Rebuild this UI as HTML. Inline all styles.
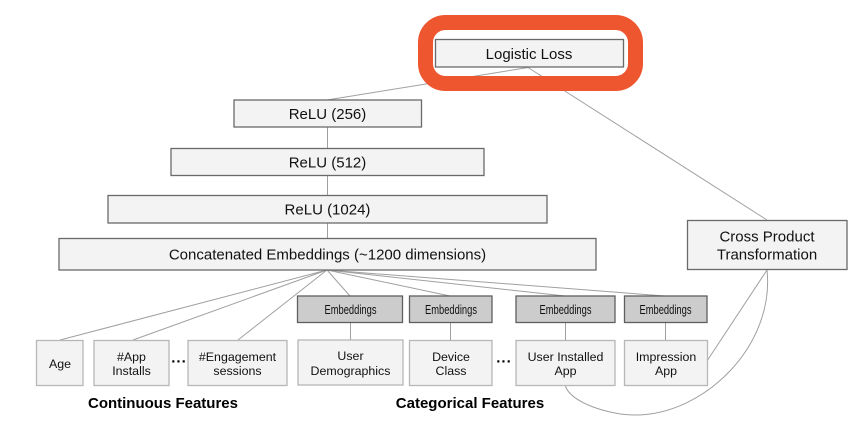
<!DOCTYPE html>
<html>
<head>
<meta charset="utf-8">
<style>
html,body{margin:0;padding:0;background:#fff;width:864px;height:428px;overflow:hidden}
svg{display:block}
text{font-family:"Liberation Sans",Arial,sans-serif;fill:#111;text-anchor:middle}
.l{stroke:#a0a0a0;stroke-width:1;fill:none}
.d{fill:#f3f3f3;stroke:#6a6a6a;stroke-width:1.3}
.b{fill:#f3f3f3;stroke:#b7b7b7;stroke-width:1.3}
.e{fill:#cccccc;stroke:#5f5f5f;stroke-width:1.3}
.t{font-size:15px}
.s{font-size:12.4px}
.n{font-family:"Liberation Sans Narrow","Liberation Sans",sans-serif;font-size:12.5px}
.h{font-size:15px;font-weight:bold;fill:#000}
.o{font-size:15px;font-weight:bold;letter-spacing:1px;fill:#000}
</style>
</head>
<body>
<svg width="864" height="428" viewBox="0 0 864 428" xmlns="http://www.w3.org/2000/svg">
<!-- connectors -->
<path class="l" d="M528,67.500 L327,100"/>
<path class="l" d="M528,67.500 L767,220"/>
<path class="l" d="M327.500,127 V148"/>
<path class="l" d="M327.500,175 V195"/>
<path class="l" d="M327.500,223 V238"/>
<path class="l" d="M327,270 L60,340"/>
<path class="l" d="M327,270 L133,340"/>
<path class="l" d="M327,270 L238,340"/>
<path class="l" d="M327,270 L350,296"/>
<path class="l" d="M327,270 L450,296"/>
<path class="l" d="M327,270 L565,296"/>
<path class="l" d="M327,270 L665,296"/>
<path class="l" d="M350.500,322 V340"/>
<path class="l" d="M450.500,322 V340"/>
<path class="l" d="M565.500,322 V344"/>
<path class="l" d="M665.500,322 V340"/>
<path class="l" d="M707,361 L767,270"/>
<path class="l" d="M565,385 C570,403 610,415 635,415 C705,415 775,345 767,270"/>

<!-- highlight -->
<rect x="425.500" y="22.500" width="210" height="61" rx="20" ry="20" fill="none" stroke="#ee562f" stroke-width="15"/>

<!-- main boxes -->
<rect class="d" x="435.500" y="39.500" width="188" height="27.500"/>
<text class="t" x="529" y="59">Logistic Loss</text>

<rect class="d" x="234" y="100" width="187.500" height="27"/>
<text class="t" x="327.500" y="119">ReLU (256)</text>

<rect class="d" x="171" y="148.500" width="313" height="27"/>
<text class="t" x="327.500" y="167.500">ReLU (512)</text>

<rect class="d" x="108" y="195.500" width="439" height="27.500"/>
<text class="t" x="327.500" y="214.500">ReLU (1024)</text>

<rect class="d" x="59" y="238.500" width="537" height="31.500"/>
<text class="t" x="327.500" y="259.500">Concatenated Embeddings (~1200 dimensions)</text>

<rect class="d" x="687.500" y="220.500" width="159.500" height="49"/>
<text class="t" x="767" y="241.500">Cross Product</text>
<text class="t" x="767" y="259.500">Transformation</text>

<!-- embeddings -->
<rect class="e" x="297.500" y="296" width="105" height="26.500"/>
<text class="n" x="350.500" y="314" textLength="52" lengthAdjust="spacingAndGlyphs">Embeddings</text>
<rect class="e" x="409.500" y="296" width="82.500" height="26.500"/>
<text class="n" x="451" y="314" textLength="52" lengthAdjust="spacingAndGlyphs">Embeddings</text>
<rect class="e" x="516" y="296" width="99" height="26.500"/>
<text class="n" x="565.500" y="314" textLength="52" lengthAdjust="spacingAndGlyphs">Embeddings</text>
<rect class="e" x="624.500" y="296" width="82.500" height="26.500"/>
<text class="n" x="665.500" y="314" textLength="52" lengthAdjust="spacingAndGlyphs">Embeddings</text>

<!-- feature boxes -->
<rect class="b" x="36.500" y="340.500" width="46.500" height="45"/>
<text class="s" x="60" y="368">Age</text>

<rect class="b" x="94" y="340.500" width="75" height="45"/>
<text class="s" x="131.500" y="361">#App</text>
<text class="s" x="131.500" y="375">Installs</text>

<text class="o" x="179" y="362.500">...</text>

<rect class="b" x="188" y="340.500" width="99" height="45"/>
<text class="s" x="237.500" y="361">#Engagement</text>
<text class="s" x="237.500" y="375">sessions</text>

<rect class="b" x="298" y="340" width="105" height="45"/>
<text class="s" x="350.500" y="360">User</text>
<text class="s" x="350.500" y="375">Demographics</text>

<rect class="b" x="409.500" y="340.500" width="82.500" height="45"/>
<text class="s" x="451" y="361">Device</text>
<text class="s" x="451" y="375">Class</text>

<text class="o" x="504" y="362.500">...</text>

<rect class="b" x="516" y="340.500" width="99" height="45"/>
<text class="s" x="565.500" y="361">User Installed</text>
<text class="s" x="565.500" y="375">App</text>

<rect class="b" x="624.500" y="340.500" width="83" height="45"/>
<text class="s" x="666" y="361">Impression</text>
<text class="s" x="666" y="375">App</text>

<!-- group labels -->
<text class="h" x="163" y="408">Continuous Features</text>
<text class="h" x="470" y="408">Categorical Features</text>
</svg>
</body>
</html>
